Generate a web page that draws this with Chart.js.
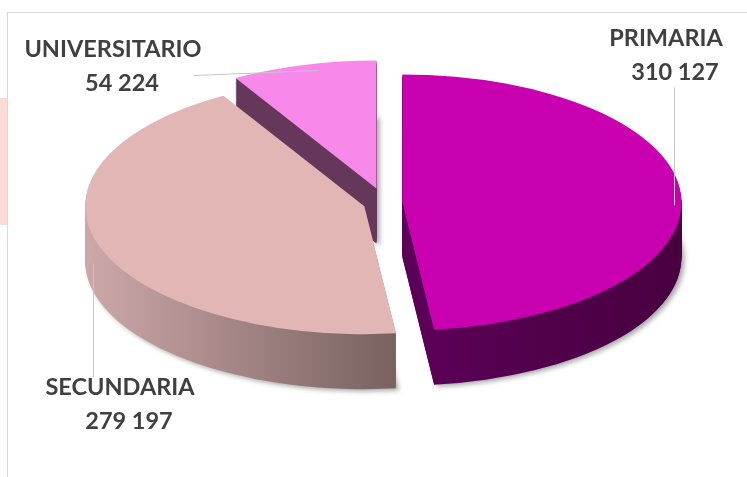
<!DOCTYPE html>
<html>
<head>
<meta charset="utf-8">
<script src="https://cdn.jsdelivr.net/npm/chart.js@4.4.1/dist/chart.umd.min.js"></script>
<style>
    html, body { margin: 0; padding: 0; background: #fff; }
    #wrap { position: relative; width: 747px; height: 477px; overflow: hidden; }
    #frame { position: absolute; left: 7px; top: 12px; width: 760px; height: 480px; border-top: 1px solid #d9d9d9; border-left: 1px solid #d9d9d9; }
    #tab { position: absolute; left: 0; top: 98px; width: 7px; height: 127px; background: #fcdad5; }
    canvas { position: absolute; left: 0; top: 0; }
</style>
</head>
<body>
<div id="wrap">
    <div id="frame"></div>
    <div id="tab"></div>
    <canvas id="chart" width="747" height="477"></canvas>
</div>
<script>
// --- Data ---
const categories = ['PRIMARIA', 'SECUNDARIA', 'UNIVERSITARIO'];
const students = [310127, 279197, 54224];

// --- Look ---
const topColors = ['#c800b0', '#e3b6b6', '#f889ea'];
const sideStops = [
    [[0.5, '#5c0058'], [1, '#48003f']],
    [[0, '#cda8a9'], [0.55, '#796260']],
    [[0, '#64375b'], [1, '#64375b']]
];
const explode = [8, 10, 15];      // pull-out of each slice, before the squash
const SQUASH_X = 2.18;            // pie is drawn round, then stretched sideways
const DEPTH = 55;
const labelSpots = [[666, 46], [120, 395], [113, 57]];
const leaders = [[[674, 87], [674, 205]], [[93, 377], [93, 263]], [[193, 75], [318, 70]]];

const fmt = n => String(n).replace(/\B(?=(\d{3})+(?!\d))/g, ' ');

// draw one arc element with another fill, shifted down by dy
const paintArc = (ctx, arc, fill, dy) => {
    const keep = arc.options;
    arc.options = Object.assign({}, keep, { backgroundColor: fill, offset: 0 });
    ctx.save();
    ctx.translate(0, dy);
    arc.draw(ctx);
    ctx.restore();
    arc.options = keep;
};

const pie3d = {
    id: 'pie3d',
    beforeDatasetDraw(chart, args) {
        const ctx = chart.ctx;
        const arcs = chart.getDatasetMeta(args.index).data;
        const cx = arcs[0].x, cy = arcs[0].y;

        const withSlice = (i, fn) => {
            const arc = arcs[i];
            const mid = (arc.startAngle + arc.endAngle) / 2;
            ctx.save();
            ctx.translate(cx, cy);
            ctx.scale(SQUASH_X, 1);
            ctx.translate(-cx, -cy);
            ctx.translate(Math.cos(mid) * explode[i], Math.sin(mid) * explode[i]);
            fn(arc);
            ctx.restore();
        };

        const order = [2, 1, 0];

        // --- sides (stacked copies going down) ---
        order.forEach(i => withSlice(i, arc => {
            const r = arc.outerRadius;
            const g = ctx.createLinearGradient(arc.x - r, 0, arc.x + r, 0);
            sideStops[i].forEach(([t, c]) => g.addColorStop(t, c));
            for (let d = DEPTH; d >= 1; d--) {
                if (d === DEPTH) {
                    ctx.save();
                    ctx.shadowColor = 'rgba(0,0,0,0.35)';
                    ctx.shadowBlur = 5;
                    ctx.shadowOffsetX = 3;
                    ctx.shadowOffsetY = 2;
                    paintArc(ctx, arc, g, d);
                    ctx.restore();
                } else {
                    paintArc(ctx, arc, g, d);
                }
            }
        }));

        // --- top faces ---
        order.forEach(i => withSlice(i, arc => paintArc(ctx, arc, topColors[i], 0)));

        return false;
    }
};

const sliceLabels = {
    id: 'sliceLabels',
    afterDraw(chart) {
        const ctx = chart.ctx;
        ctx.save();
        ctx.strokeStyle = '#c6c6c6';
        ctx.lineWidth = 1;
        leaders.forEach(([a, b]) => {
            ctx.beginPath();
            ctx.moveTo(a[0] + 0.5, a[1] + 0.5);
            ctx.lineTo(b[0] + 0.5, b[1] + 0.5);
            ctx.stroke();
        });
        ctx.fillStyle = '#404040';
        ctx.font = 'bold 23.5px Lato';
        ctx.textAlign = 'center';
        ctx.textBaseline = 'alphabetic';
        categories.forEach((name, i) => {
            const [x, y] = labelSpots[i];
            ctx.fillText(name, x, y);
            ctx.fillText(fmt(students[i]), x + 9, y + 34);
        });
        ctx.restore();
    }
};

new Chart(document.getElementById('chart').getContext('2d'), {
    type: 'pie',
    data: {
        labels: categories,
        datasets: [{
            data: students,
            backgroundColor: topColors,
            borderWidth: 0,
            radius: 128
        }]
    },
    options: {
        responsive: false,
        animation: false,
        events: [],
        layout: { padding: { left: 23, right: 0, top: 0, bottom: 71 } },
        plugins: {
            legend: { display: false },
            tooltip: { enabled: false }
        }
    },
    plugins: [pie3d, sliceLabels]
});
</script>
</body>
</html>
